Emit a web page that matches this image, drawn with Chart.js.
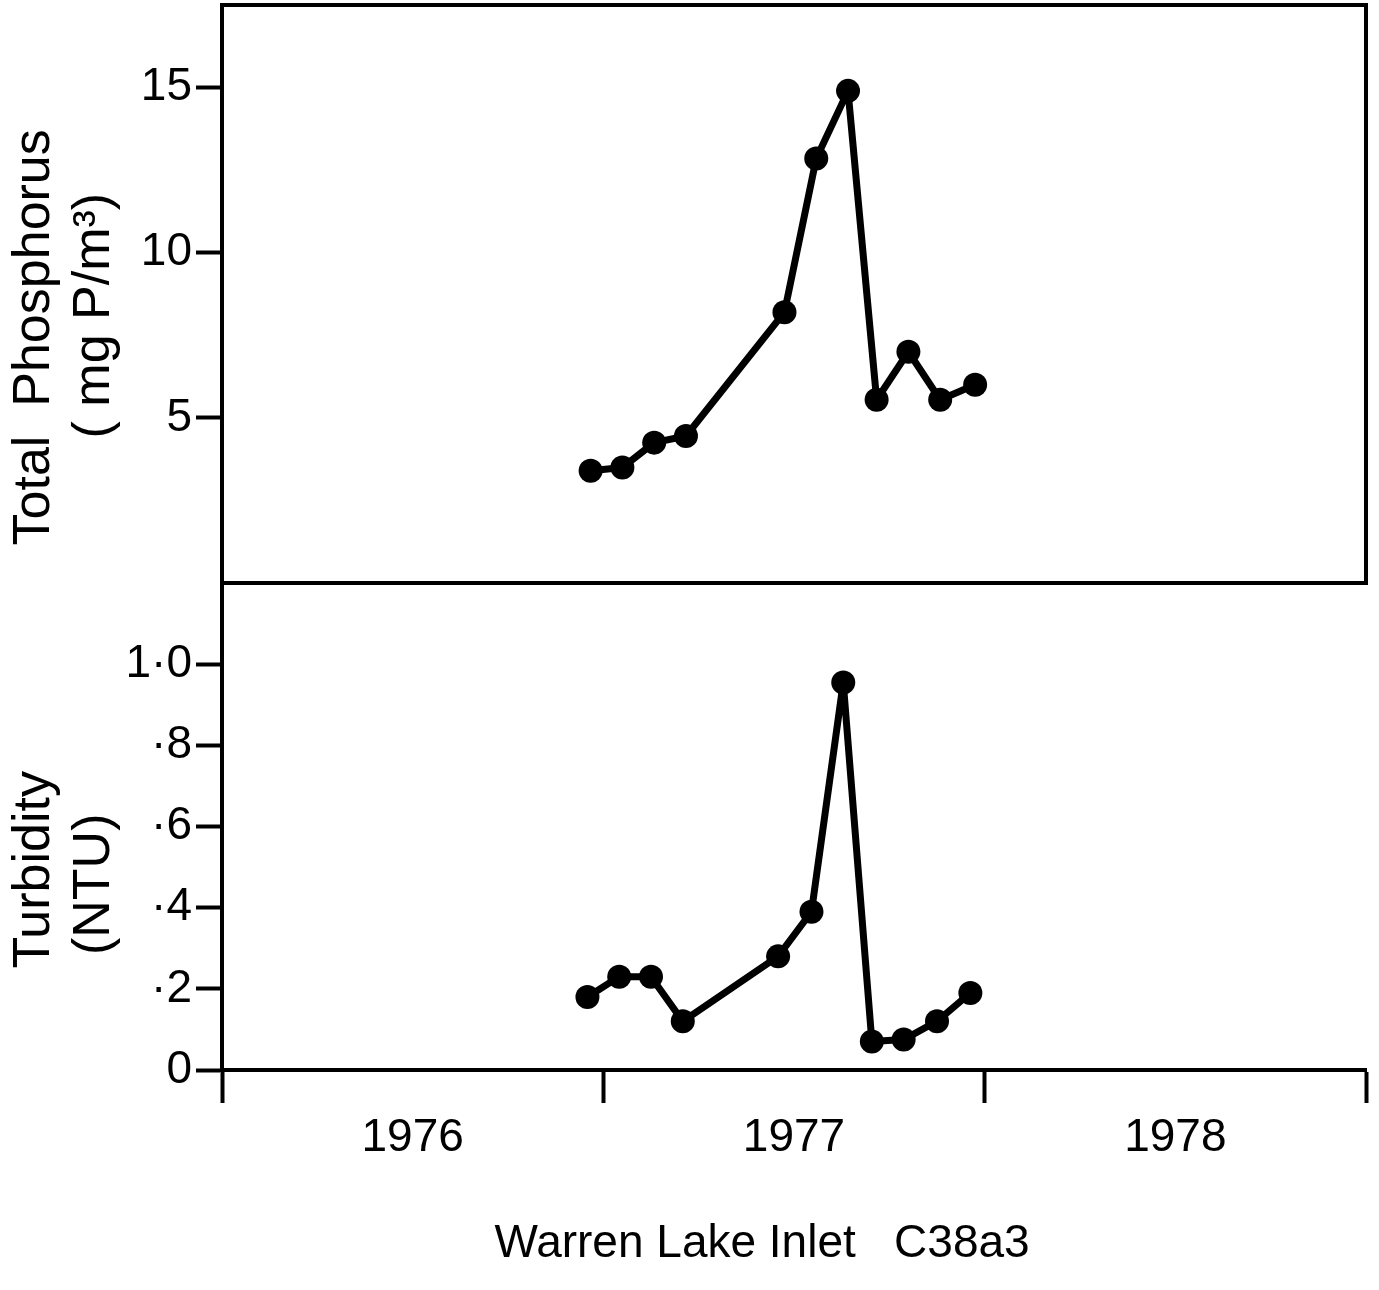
<!DOCTYPE html>
<html>
<head>
<meta charset="utf-8">
<script src="https://cdn.jsdelivr.net/npm/chart.js@4.4.0/dist/chart.umd.min.js"></script>
<style>
  html, body { margin: 0; padding: 0; background: #fff; }
  #wrap { width: 1379px; height: 1290px; }
</style>
</head>
<body>
<div id="wrap"><canvas id="warrenChart"></canvas></div>
<script>
// x values are months counted from 1 Jan 1976
const phosMonths = [11.6, 12.6, 13.6, 14.6, 17.7, 18.7, 19.7, 20.6, 21.6, 22.6, 23.7];
const phosValues = [3.4, 3.5, 4.25, 4.45, 8.2, 12.85, 14.9, 5.55, 7.0, 5.55, 6.0]; // mg P/m3
const turbMonths = [11.5, 12.5, 13.5, 14.5, 17.5, 18.55, 19.55, 20.45, 21.45, 22.5, 23.55];
const turbValues = [0.18, 0.23, 0.23, 0.12, 0.28, 0.39, 0.955, 0.07, 0.075, 0.12, 0.19]; // NTU
const yearLabels = ['1976', '1977', '1978'];

const FONT = "'Liberation Sans', Arial, sans-serif";
const ink = '#000';
const clear = 'rgba(0,0,0,0)';

// frame round the upper (phosphorus) panel
const topBox = {
  id: 'topBox',
  afterDraw(chart) {
    const { ctx, chartArea } = chart;
    const s = chart.scales.yPhos;
    ctx.save();
    ctx.strokeStyle = ink;
    ctx.lineWidth = 4;
    ctx.strokeRect(chartArea.left, s.top, chartArea.right - chartArea.left, s.bottom - s.top);
    ctx.restore();
  }
};

// fixed axis width, and no extra room for the half labels at the ends
const fitY = (s) => { s.width = 217; s.paddingTop = 0; s.paddingBottom = 0; };

const ctx = document.getElementById('warrenChart').getContext('2d');

new Chart(ctx, {
  type: 'line',
  data: {
    datasets: [
      {
        label: 'Total Phosphorus',
        data: phosMonths.map((m, i) => ({ x: m, y: phosValues[i] })),
        yAxisID: 'yPhos'
      },
      {
        label: 'Turbidity',
        data: turbMonths.map((m, i) => ({ x: m, y: turbValues[i] })),
        yAxisID: 'yTurb'
      }
    ]
  },
  options: {
    responsive: true,
    maintainAspectRatio: false,
    animation: false,
    layout: { autoPadding: false, padding: { left: 5, right: 13, top: 5, bottom: 0 } },
    elements: {
      line: { borderColor: ink, borderWidth: 7, tension: 0, fill: false, borderJoinStyle: 'round', borderCapStyle: 'round' },
      point: { radius: 12, backgroundColor: ink, borderWidth: 0, hoverRadius: 12 }
    },
    plugins: {
      legend: { display: false },
      tooltip: { enabled: false }
    },
    scales: {
      x: {
        type: 'linear',
        position: 'bottom',
        min: 0,
        max: 36,
        afterFit: (s) => { s.height = 220; s.paddingLeft = 0; s.paddingRight = 0; },
        ticks: {
          stepSize: 6,
          autoSkip: false,
          maxRotation: 0,
          padding: 8,
          color: ink,
          font: { family: FONT, size: 46 },
          callback: (v) => (v % 12 === 6 ? yearLabels[(v - 6) / 12] : '')
        },
        grid: {
          drawOnChartArea: false,
          tickLength: 33,
          tickWidth: 4,
          tickColor: (c) => (c.tick && c.tick.value % 12 === 0 ? ink : clear)
        },
        border: { color: ink, width: 4 },
        title: {
          display: true,
          text: 'Warren Lake Inlet   C38a3     ',
          color: ink,
          font: { family: FONT, size: 46 },
          padding: { top: 0, bottom: 18 }
        }
      },
      // the stack is filled from the bottom up, so the lower panel comes first
      yTurb: {
        type: 'linear',
        position: 'left',
        stack: 'panels',
        stackWeight: 487,
        min: 0,
        max: 1.2,
        afterFit: fitY,
        ticks: {
          stepSize: 0.2,
          autoSkip: false,
          includeBounds: false,
          padding: 4,
          color: ink,
          font: { family: FONT, size: 46 },
          callback: (v) => {
            const n = Math.round(v * 10);
            if (n > 10) return '';
            if (n === 0) return '0';
            if (n === 10) return '1\u00B70';
            return '\u00B7' + n;
          }
        },
        grid: {
          drawOnChartArea: false,
          tickLength: 26,
          tickWidth: 4,
          tickColor: (c) => (c.tick && Math.round(c.tick.value * 10) > 10 ? clear : ink)
        },
        border: { color: ink, width: 4 },
        title: {
          display: true,
          text: ['Turbidity      ', '(NTU)        '],
          color: ink,
          font: { family: FONT, size: 52, lineHeight: 1.15 },
          padding: 0
        }
      },
      yPhos: {
        type: 'linear',
        position: 'left',
        stack: 'panels',
        stackWeight: 578,
        min: 0,
        max: 17.5,
        afterFit: fitY,
        ticks: {
          stepSize: 5,
          autoSkip: false,
          includeBounds: false,
          padding: 4,
          color: ink,
          font: { family: FONT, size: 46 },
          callback: (v) => (v === 0 ? '' : String(v))
        },
        grid: {
          drawOnChartArea: false,
          tickLength: 26,
          tickWidth: 4,
          tickColor: (c) => (c.tick && c.tick.value === 0 ? clear : ink)
        },
        border: { color: ink, width: 4 },
        title: {
          display: true,
          text: ['Total  Phosphorus      ', '( mg P/m\u00B3)   '],
          color: ink,
          font: { family: FONT, size: 52, lineHeight: 1.15 },
          padding: 0
        }
      }
    }
  },
  plugins: [topBox]
});
</script>
</body>
</html>
